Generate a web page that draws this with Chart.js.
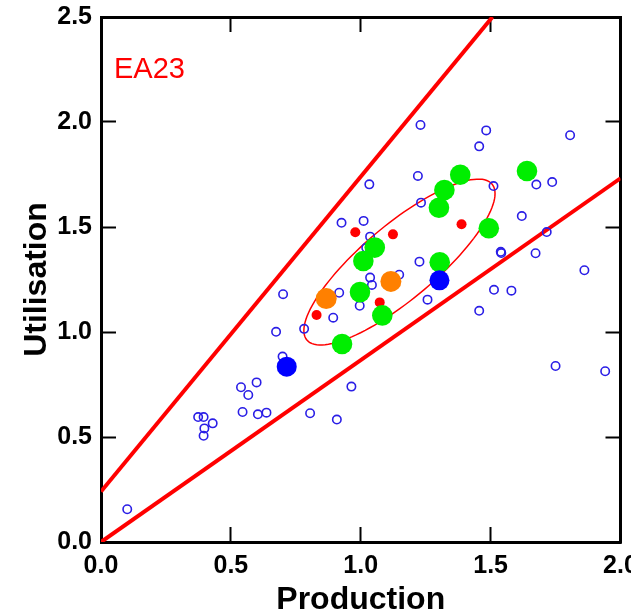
<!DOCTYPE html>
<html>
<head>
<meta charset="utf-8">
<script src="https://cdn.jsdelivr.net/npm/chart.js@4.4.1/dist/chart.umd.min.js"></script>
<style>
  html, body { margin: 0; padding: 0; background: #fff; overflow: hidden; }
</style>
</head>
<body>
<canvas id="chart" width="631" height="616"></canvas>
<script>
// values (Production, Utilisation)
const openBlue = [
  [1.230, 1.986], [1.220, 1.743], [1.033, 1.703], [1.232, 1.616], [0.926, 1.520],
  [1.011, 1.529], [1.036, 1.454], [1.021, 1.401], [1.226, 1.335], [1.036, 1.259],
  [1.043, 1.224], [1.148, 1.273], [0.701, 1.180], [0.917, 1.187], [0.996, 1.125],
  [0.894, 1.068], [0.782, 1.015], [1.257, 1.154], [1.483, 1.960], [1.456, 1.884],
  [1.806, 1.937], [1.511, 1.695], [1.676, 1.702], [1.737, 1.714], [1.620, 1.552],
  [1.716, 1.476], [1.539, 1.382], [1.541, 1.376], [1.673, 1.375], [1.861, 1.294],
  [1.513, 1.201], [1.580, 1.197], [1.456, 1.101], [1.750, 0.838], [1.941, 0.813],
  [0.674, 1.001], [0.699, 0.883], [0.964, 0.740], [0.805, 0.613], [0.908, 0.583],
  [0.539, 0.737], [0.599, 0.760], [0.567, 0.700], [0.545, 0.619], [0.604, 0.608],
  [0.637, 0.616], [0.374, 0.595], [0.395, 0.595], [0.430, 0.565], [0.398, 0.541],
  [0.395, 0.506], [0.101, 0.156]
];
const redDots = [[0.979, 1.475], [1.124, 1.465], [1.073, 1.141], [0.830, 1.081], [1.388, 1.513]];
const greenDots = [
  [0.928, 0.943], [0.997, 1.190], [1.083, 1.079], [1.010, 1.338], [1.054, 1.402],
  [1.304, 1.332], [1.301, 1.592], [1.322, 1.676], [1.383, 1.749], [1.493, 1.494],
  [1.640, 1.767]
];
const orangeDots = [[0.867, 1.159], [1.116, 1.241]];
const blueDots = [[0.715, 0.835], [1.303, 1.246]];

// bounding lines
const upperLine = [[0, 0.24], [1.507, 2.5]];
const lowerLine = [[0, 0], [2.0, 1.732]];

// ellipse: centre, half extent in x and y, phase between them
const ellCentre = [1.149, 1.333];
const ellHalf = [0.368, 0.395];
const ellPhase = 0.60;

const xTicks = [0, 0.5, 1.0, 1.5, 2.0];
const yTicks = [0, 0.5, 1.0, 1.5, 2.0, 2.5];

const FONT = "'Liberation Sans', Arial, Helvetica, sans-serif";
const pts = a => a.map(p => ({x: p[0], y: p[1]}));

const ellipsePlugin = {
  id: 'ellipse',
  beforeDatasetsDraw(chart) {
    const {ctx, scales: {x, y}} = chart;
    ctx.save();
    ctx.beginPath();
    for (let i = 0; i <= 120; i++) {
      const t = i / 120 * Math.PI * 2;
      const px = x.getPixelForValue(ellCentre[0] + ellHalf[0] * Math.cos(t));
      const py = y.getPixelForValue(ellCentre[1] + ellHalf[1] * Math.cos(t - ellPhase));
      if (i === 0) ctx.moveTo(px, py); else ctx.lineTo(px, py);
    }
    ctx.closePath();
    ctx.strokeStyle = '#ff0000';
    ctx.lineWidth = 1.5;
    ctx.stroke();
    ctx.restore();
  },
  afterDraw(chart) {
    const {ctx, chartArea} = chart;
    ctx.save();
    ctx.font = '29px ' + FONT;
    ctx.fillStyle = '#ff0000';
    ctx.textBaseline = 'alphabetic';
    ctx.fillText('EA23', chartArea.left + 13, chartArea.top + 61);
    ctx.restore();
  }
};

const tickFont = {family: FONT, size: 25, weight: 'bold'};
const grid = {drawOnChartArea: false, tickLength: -15, tickWidth: 2, tickColor: '#000'};
const border = {color: '#000', width: 3};

new Chart(document.getElementById('chart'), {
  type: 'scatter',
  data: {
    datasets: [
      {type: 'line', data: pts(upperLine), borderColor: '#ff0000', borderWidth: 4, pointRadius: 0, order: 5},
      {type: 'line', data: pts(lowerLine), borderColor: '#ff0000', borderWidth: 4, pointRadius: 0, order: 5},
      {data: pts(openBlue), pointRadius: 4.2, borderWidth: 1.6, pointBorderColor: '#2a1ee6', pointBackgroundColor: 'rgba(0,0,0,0)', order: 4},
      {data: pts(redDots), pointRadius: 5, borderWidth: 0, pointBackgroundColor: '#ff0000', order: 3},
      {data: pts(greenDots), pointRadius: 10.3, borderWidth: 0, pointBackgroundColor: '#00ee00', order: 2},
      {data: pts(orangeDots), pointRadius: 10.5, borderWidth: 0, pointBackgroundColor: '#ff8000', order: 2},
      {data: pts(blueDots), pointRadius: 10, borderWidth: 0, pointBackgroundColor: '#0000ff', order: 1}
    ]
  },
  options: {
    responsive: false,
    devicePixelRatio: 1,
    animation: false,
    layout: {padding: {top: 17, right: 8, bottom: 0, left: 0}},
    plugins: {legend: {display: false}, tooltip: {enabled: false}},
    scales: {
      x: {
        type: 'linear', position: 'bottom', min: 0, max: 2,
        afterBuildTicks: s => { s.ticks = xTicks.map(v => ({value: v})); },
        ticks: {callback: v => v.toFixed(1), font: tickFont, color: '#000', padding: 24, maxRotation: 0, autoSkip: false},
        grid: grid, border: border,
        title: {display: true, text: 'Production', color: '#000', font: {family: FONT, size: 32, weight: 'bold', lineHeight: 1}, padding: {top: 0, bottom: 0}},
        afterFit: s => { s.height = 74; s.paddingLeft = 0; s.paddingRight = 0; }
      },
      y: {
        type: 'linear', position: 'left', min: 0, max: 2.5,
        afterBuildTicks: s => { s.ticks = yTicks.map(v => ({value: v})); },
        ticks: {callback: v => v.toFixed(1), font: tickFont, color: '#000', padding: 24, autoSkip: false},
        grid: grid, border: border,
        title: {display: true, text: 'Utilisation', color: '#000', font: {family: FONT, size: 32, weight: 'bold', lineHeight: 1}, padding: {top: 21, bottom: 0}},
        afterFit: s => { s.width = 101; s.paddingTop = 0; s.paddingBottom = 0; }
      },
      x2: {
        type: 'linear', position: 'top', min: 0, max: 2,
        afterBuildTicks: s => { s.ticks = xTicks.map(v => ({value: v})); },
        ticks: {display: false},
        grid: grid, border: border,
        afterFit: s => { s.height = 0; s.paddingLeft = 0; s.paddingRight = 0; }
      },
      y2: {
        type: 'linear', position: 'right', min: 0, max: 2.5,
        afterBuildTicks: s => { s.ticks = yTicks.map(v => ({value: v})); },
        ticks: {display: false},
        grid: grid, border: border,
        afterFit: s => { s.width = 0; s.paddingTop = 0; s.paddingBottom = 0; }
      }
    }
  },
  plugins: [ellipsePlugin]
});
</script>
</body>
</html>
